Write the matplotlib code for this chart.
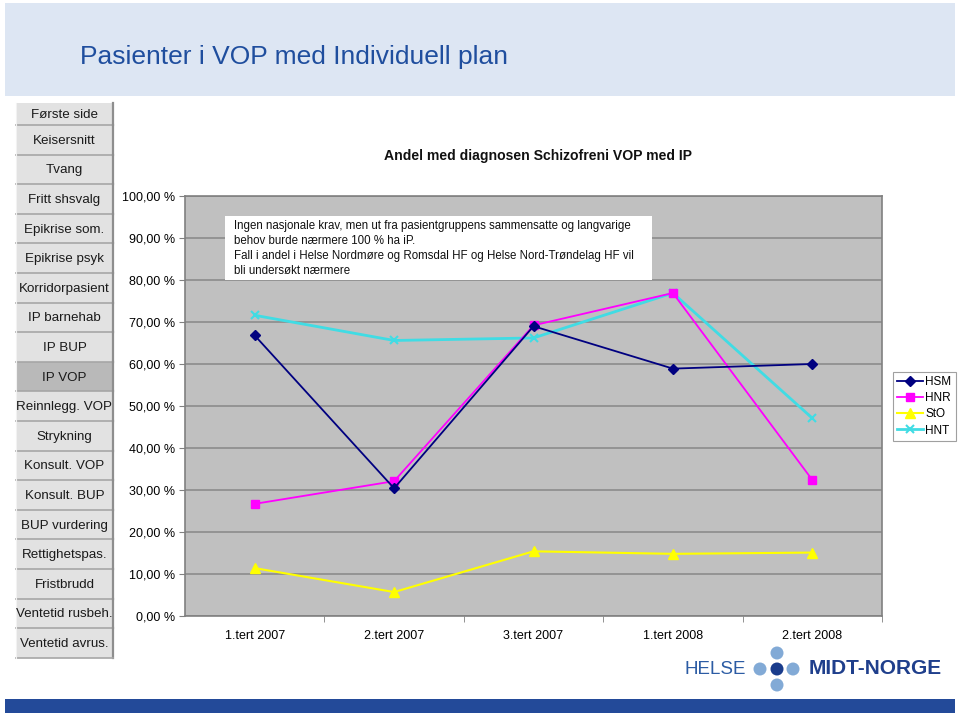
import matplotlib
matplotlib.use("Agg")
import matplotlib.pyplot as plt
from matplotlib.patches import Rectangle, Ellipse
from matplotlib.lines import Line2D

plt.rcParams['font.family'] = ['Liberation Sans', 'DejaVu Sans']

W, H = 960, 716

categories = ["1.tert 2007", "2.tert 2007", "3.tert 2007", "1.tert 2008", "2.tert 2008"]
hsm = [66.8, 30.4, 69.0, 58.9, 60.0]
hnr = [26.7, 32.1, 69.2, 76.9, 32.4]
sto = [11.4, 5.7, 15.4, 14.8, 15.1]
hnt = [71.6, 65.6, 66.2, 76.9, 47.1]
series_names = ["HSM", "HNR", "StO", "HNT"]
y_ticks = [0, 10, 20, 30, 40, 50, 60, 70, 80, 90, 100]
y_tick_labels = ["0,00 %", "10,00 %", "20,00 %", "30,00 %", "40,00 %", "50,00 %",
                 "60,00 %", "70,00 %", "80,00 %", "90,00 %", "100,00 %"]
menu_items = ["Første side", "Keisersnitt", "Tvang", "Fritt shsvalg", "Epikrise som.",
              "Epikrise psyk", "Korridorpasient", "IP barnehab", "IP BUP", "IP VOP",
              "Reinnlegg. VOP", "Strykning", "Konsult. VOP", "Konsult. BUP",
              "BUP vurdering", "Rettighetspas.", "Fristbrudd", "Ventetid rusbeh.",
              "Ventetid avrus."]
active_item = "IP VOP"
slide_title = "Pasienter i VOP med Individuell plan"
chart_title = "Andel med diagnosen Schizofreni VOP med IP"
note_text = ("Ingen nasjonale krav, men ut fra pasientgruppens sammensatte og langvarige\n"
             "behov burde nærmere 100 % ha iP.\n"
             "Fall i andel i Helse Nordmøre og Romsdal HF og Helse Nord-Trøndelag HF vil\n"
             "bli undersøkt nærmere")

fig = plt.figure(figsize=(W / 100, H / 100), dpi=100)
fig.patch.set_facecolor("white")


def fx(x):
    return x / W


def fy(y):
    return 1 - y / H


def rect(x0, y0, x1, y1, **kw):
    fig.patches.append(Rectangle((fx(x0), fy(y1)), fx(x1) - fx(x0), (y1 - y0) / H,
                                 transform=fig.transFigure, figure=fig, **kw))


def line(xs, ys, **kw):
    fig.lines.append(Line2D([fx(v) for v in xs], [fy(v) for v in ys],
                            transform=fig.transFigure, figure=fig, **kw))


# top banner
rect(5, 3, 955, 96, facecolor="#DDE6F3", edgecolor="none", zorder=0)
fig.text(fx(80), fy(57), slide_title, fontsize=19, color="#1F4E9E",
         ha="left", va="center")

# left menu
y = 103
for i, item in enumerate(menu_items):
    h = 22 if i == 0 else 29.6
    face = "#B9B9B9" if item == active_item else "#E2E2E2"
    rect(16, y, 113, y + h, facecolor=face, edgecolor="none", zorder=1)
    line([113, 113], [y, y + h], color="#8E8E8E", linewidth=1.6, zorder=2)
    line([16, 113], [y + h, y + h], color="#A6A6A6", linewidth=1.2, zorder=2)
    line([16, 16], [y, y + h], color="#F2F2F2", linewidth=0.8, zorder=2)
    fig.text(fx(64.5), fy(y + h / 2 + 1), item, fontsize=9.6, color="#1a1a1a",
             ha="center", va="center", zorder=3)
    y += h

# chart axes
ax_l, ax_r, ax_t, ax_b = 185, 882, 196, 616
ax = fig.add_axes([fx(ax_l), fy(ax_b), (ax_r - ax_l) / W, (ax_b - ax_t) / H])
ax.set_facecolor("#C0C0C0")
x = list(range(len(categories)))
ax.set_xlim(-0.5, len(categories) - 0.5)
ax.set_ylim(0, 100)
ax.set_yticks(y_ticks)
ax.set_yticklabels(y_tick_labels, fontsize=9)
ax.set_xticks(x)
ax.set_xticklabels(categories, fontsize=9)
ax.tick_params(axis="x", length=0, pad=10)
ax.tick_params(axis="y", length=4, width=0.8, color="#808080", pad=3)
ax.set_xticks([i + 0.5 for i in range(len(categories))], minor=True)
ax.tick_params(axis="x", which="minor", length=4, color="#808080")
ax.grid(axis="y", color="#8C8C8C", linewidth=1.2)
ax.set_axisbelow(True)
for s in ax.spines.values():
    s.set_color("#808080")
    s.set_linewidth(1.2)

ax.plot(x, hsm, color="#000080", marker="D", markersize=5, linewidth=1.3,
        label=series_names[0], zorder=4)
ax.plot(x, hnr, color="#FF00FF", marker="s", markersize=6, linewidth=1.3,
        label=series_names[1], zorder=3)
ax.plot(x, sto, color="#FFFF00", marker="^", markersize=7, linewidth=1.5,
        label=series_names[2], zorder=3)
ax.plot(x, hnt, color="#40DCE4", marker="x", markersize=6, markeredgewidth=1.5,
        linewidth=2.0, label=series_names[3], zorder=2)

leg = ax.legend(loc="upper left", bbox_to_anchor=((893 - ax_l) / (ax_r - ax_l),
                                                  (ax_b - 372) / (ax_b - ax_t)),
                fontsize=8.5, frameon=True, fancybox=False, framealpha=1,
                edgecolor="#A0A0A0", handlelength=2.2, handletextpad=0.2,
                borderpad=0.35, labelspacing=0.35, borderaxespad=0)
leg.get_frame().set_linewidth(0.8)

# note box
rect(225, 216, 652, 280, facecolor="white", edgecolor="none", zorder=5)
fig.text(fx(234), fy(220), note_text, fontsize=8.3, color="#111111", ha="left",
         va="top", linespacing=1.33, zorder=6)

fig.text(fx(538), fy(156), chart_title, fontsize=10.1, fontweight="bold",
         color="#111111", ha="center", va="center")

# logo
fig.text(fx(685), fy(669), "HELSE", fontsize=13.5, color="#2C5CA4", ha="left",
         va="center")
for (cx, cy), col in [((777, 653), "#82AAD6"), ((760, 669), "#82AAD6"),
                      ((777, 669), "#1A3C8C"), ((793, 669), "#82AAD6"),
                      ((777, 685), "#82AAD6")]:
    fig.patches.append(Ellipse((fx(cx), fy(cy)), 13 / W, 13 / H,
                               transform=fig.transFigure,
                               facecolor=col, edgecolor="none", figure=fig))
fig.text(fx(809), fy(669), "MIDT-NORGE", fontsize=15, fontweight="bold",
         color="#1F3F8C", ha="left", va="center")

# bottom bar
rect(5, 699, 955, 713, facecolor="#234A99", edgecolor="none", zorder=1)

fig.savefig("out.png", dpi=100)
